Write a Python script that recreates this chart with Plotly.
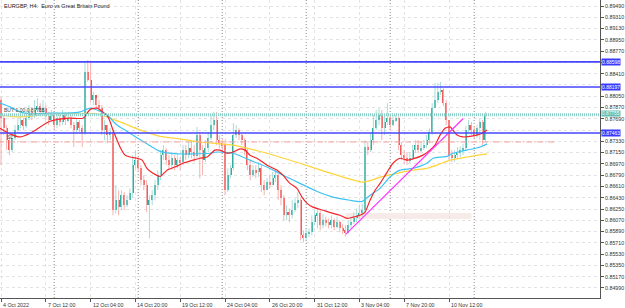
import plotly.graph_objects as go

# ---------------- data ----------------
first_open = 0.8799
close = [0.8770,0.8754,0.8735,0.8719,0.8738,0.8751,0.8759,0.8767,0.8757,0.8770,
         0.8780,0.8773,0.8783,0.8789,0.8780,0.8786,0.8773,0.8767,0.8775,0.8759,
         0.8770,0.8764,0.8775,0.8767,0.8770,0.8759,0.8751,0.8764,0.8754,0.8746,
         0.8844,0.8831,0.8799,0.8807,0.8791,0.8786,0.8751,0.8759,0.8743,0.8748,
         0.8623,0.8639,0.8628,0.8647,0.8631,0.8639,0.8650,0.8695,0.8703,0.8690,
         0.8671,0.8663,0.8631,0.8639,0.8647,0.8663,0.8679,0.8711,0.8719,0.8703,
         0.8695,0.8706,0.8695,0.8703,0.8700,0.8719,0.8711,0.8722,0.8716,0.8709,
         0.8743,0.8719,0.8703,0.8722,0.8738,0.8759,0.8767,0.8735,0.8730,0.8727,
         0.8655,0.8679,0.8690,0.8743,0.8751,0.8743,0.8735,0.8719,0.8695,0.8679,
         0.8687,0.8684,0.8690,0.8663,0.8655,0.8668,0.8663,0.8674,0.8679,0.8655,
         0.8642,0.8615,0.8620,0.8615,0.8623,0.8634,0.8639,0.8583,0.8578,0.8586,
         0.8588,0.8604,0.8615,0.8618,0.8599,0.8607,0.8604,0.8599,0.8607,0.8597,
         0.8604,0.8594,0.8591,0.8586,0.8599,0.8604,0.8610,0.8615,0.8618,0.8623,
         0.8724,0.8719,0.8735,0.8754,0.8767,0.8775,0.8754,0.8764,0.8770,0.8759,
         0.8767,0.8770,0.8727,0.8711,0.8706,0.8703,0.8706,0.8719,0.8727,0.8719,
         0.8722,0.8727,0.8735,0.8748,0.8786,0.8799,0.8812,0.8815,0.8794,0.8767,
         0.8711,0.8706,0.8711,0.8716,0.8719,0.8722,0.8751,0.8759,0.8751,0.8743,
         0.8754,0.8764,0.8735,0.8775]
high = [0.8804,0.8775,0.8759,0.8738,0.8743,0.8759,0.8770,0.8780,0.8770,0.8783,
        0.8791,0.8786,0.8799,0.8802,0.8794,0.8799,0.8791,0.8780,0.8783,0.8780,
        0.8780,0.8775,0.8783,0.8780,0.8780,0.8775,0.8764,0.8770,0.8767,0.8759,
        0.8860,0.8863,0.8860,0.8812,0.8802,0.8799,0.8791,0.8767,0.8759,0.8754,
        0.8751,0.8663,0.8655,0.8655,0.8652,0.8647,0.8658,0.8711,0.8719,0.8708,
        0.8695,0.8679,0.8671,0.8647,0.8655,0.8671,0.8687,0.8719,0.8727,0.8722,
        0.8711,0.8716,0.8711,0.8711,0.8708,0.8727,0.8727,0.8732,0.8735,0.8727,
        0.8756,0.8748,0.8727,0.8735,0.8748,0.8775,0.8780,0.8780,0.8743,0.8738,
        0.8735,0.8690,0.8695,0.8762,0.8759,0.8754,0.8746,0.8738,0.8722,0.8703,
        0.8695,0.8695,0.8700,0.8695,0.8671,0.8674,0.8679,0.8684,0.8687,0.8682,
        0.8663,0.8647,0.8631,0.8626,0.8639,0.8642,0.8652,0.8642,0.8591,0.8594,
        0.8594,0.8615,0.8623,0.8626,0.8623,0.8617,0.8613,0.8610,0.8615,0.8610,
        0.8613,0.8607,0.8601,0.8599,0.8607,0.8613,0.8620,0.8626,0.8631,0.8634,
        0.8735,0.8732,0.8746,0.8775,0.8783,0.8786,0.8783,0.8775,0.8794,0.8775,
        0.8775,0.8775,0.8773,0.8732,0.8719,0.8716,0.8716,0.8727,0.8735,0.8735,
        0.8732,0.8735,0.8743,0.8754,0.8794,0.8826,0.8826,0.8828,0.8818,0.8799,
        0.8767,0.8719,0.8719,0.8724,0.8725,0.8729,0.8757,0.8767,0.8764,0.8757,
        0.8759,0.8770,0.8767,0.8780]
low = [0.8695,0.8743,0.8719,0.8711,0.8716,0.8735,0.8748,0.8754,0.8751,0.8754,
       0.8767,0.8767,0.8770,0.8780,0.8773,0.8775,0.8767,0.8759,0.8764,0.8751,
       0.8754,0.8757,0.8759,0.8759,0.8764,0.8754,0.8724,0.8748,0.8748,0.8724,
       0.8743,0.8828,0.8796,0.8791,0.8786,0.8780,0.8743,0.8735,0.8730,0.8735,
       0.8615,0.8618,0.8615,0.8623,0.8623,0.8628,0.8639,0.8644,0.8690,0.8684,
       0.8663,0.8655,0.8620,0.8578,0.8631,0.8639,0.8655,0.8671,0.8703,0.8695,
       0.8687,0.8687,0.8687,0.8690,0.8687,0.8695,0.8703,0.8706,0.8706,0.8700,
       0.8706,0.8674,0.8679,0.8700,0.8716,0.8735,0.8751,0.8727,0.8722,0.8719,
       0.8647,0.8652,0.8674,0.8687,0.8738,0.8735,0.8727,0.8711,0.8687,0.8671,
       0.8676,0.8674,0.8676,0.8652,0.8647,0.8655,0.8658,0.8663,0.8668,0.8639,
       0.8631,0.8607,0.8607,0.8604,0.8610,0.8620,0.8626,0.8575,0.8572,0.8575,
       0.8580,0.8583,0.8599,0.8594,0.8591,0.8594,0.8597,0.8594,0.8594,0.8591,
       0.8594,0.8588,0.8585,0.8581,0.8585,0.8594,0.8601,0.8604,0.8610,0.8613,
       0.8618,0.8711,0.8716,0.8727,0.8751,0.8759,0.8735,0.8743,0.8759,0.8751,
       0.8757,0.8764,0.8719,0.8703,0.8698,0.8695,0.8698,0.8703,0.8714,0.8714,
       0.8716,0.8719,0.8722,0.8730,0.8743,0.8786,0.8794,0.8807,0.8789,0.8759,
       0.8703,0.8700,0.8700,0.8706,0.8708,0.8711,0.8719,0.8748,0.8743,0.8738,
       0.8738,0.8735,0.8727,0.8732]

# moving averages read at sample bars
ma_fast_bar = [-0.4,3.2,6.8,10.4,17.5,24.6,29.3,31.8,34.3,38.2,40,42.5,44.3,46.1,48.6,50.4,52.1,54.3,
               56.8,59.3,62.1,65,68.6,71.1,73.6,76.4,78.2,80.7,82.9,85.4,87.1,88.9,91.8,95,98.6,100.7,
               103.2,105.7,107.5,109.3,111.4,115,118.6,121.1,123.6,125.7,128.2,130,131.8,133.6,135.4,
               137.9,140,142.5,145,147.1,150.7,153.2,155,156.8,158.6,160.4,162.9,165,167.5,170,171.8,173.6]
ma_fast = [0.8754,0.8745,0.8740,0.8746,0.8765,0.8770,0.8770,0.8784,0.8786,0.8772,0.8751,0.8724,0.8711,
           0.8708,0.8706,0.8703,0.8690,0.8682,0.8677,0.8687,0.8692,0.8698,0.8703,0.8706,0.8708,0.8719,
           0.8719,0.8714,0.8716,0.8721,0.8719,0.8711,0.8705,0.8695,0.8687,0.8679,0.8666,0.8658,0.8644,
           0.8634,0.8628,0.8623,0.8618,0.8615,0.8610,0.8612,0.8615,0.8620,0.8639,0.8655,0.8666,0.8684,
           0.8698,0.8706,0.8703,0.8705,0.8711,0.8719,0.8727,0.8743,0.8754,0.8756,0.8743,0.8740,0.8741,
           0.8743,0.8746,0.8751]
ma_mid_bar = [-0.4,3.2,6.8,10.4,17.5,23.6,28.2,31.8,34.3,37.9,41.4,44.3,47.1,52.1,56.8,62.9,68.6,74.6,
              77.1,82.9,88.9,95,100.7,106.8,112.9,118.6,124.6,128.9,131.8,135.4,138.9,142.5,147.1,
              152.1,154.3,159.3,161.4,166.4,171.1,173.6]
ma_mid = [0.8794,0.8788,0.8780,0.8777,0.8778,0.8778,0.8780,0.8786,0.8783,0.8775,0.8759,0.8751,0.8743,
          0.8729,0.8717,0.8713,0.8713,0.8714,0.8716,0.8714,0.8703,0.8692,0.8679,0.8666,0.8653,0.8644,
          0.8639,0.8637,0.8647,0.8658,0.8676,0.8687,0.8690,0.8698,0.8706,0.8709,0.8714,0.8719,0.8724,
          0.8729]
ma_slow_bar = [-0.4,6.8,13.9,23.6,34.3,38.9,42.5,48.6,56.8,63.9,71.1,82.9,95,106.8,116.4,123.6,128.9,
               132.5,135.4,141.4,147.1,152.1,155.7,160.4,166.4,173.6]
ma_slow = [0.8775,0.8772,0.8775,0.8777,0.8777,0.8770,0.8764,0.8753,0.8741,0.8737,0.8732,0.8727,0.8714,
           0.8698,0.8684,0.8674,0.8668,0.8671,0.8676,0.8682,0.8687,0.8690,0.8695,0.8703,0.8708,0.8713]

blue_levels = [0.88598, 0.88197, 0.87463]
entry_level = 0.87755
sl_level = 0.87320
zone_bars = [123, 168]
zone_prices = [0.86091, 0.86187]
trend_bars = [123.2, 165]
trend_prices = [0.8585, 0.8769]
week_starts = [19, 49, 79, 109, 139, 169]

x_tick_bars = [0, 16, 32, 48, 64, 80, 96, 112, 128, 144, 160]
x_tick_text = ["4 Oct 2022", "7 Oct 12:00", "12 Oct 04:00", "14 Oct 20:00", "19 Oct 12:00",
               "24 Oct 04:00", "26 Oct 20:00", "31 Oct 12:00", "3 Nov 04:00", "7 Nov 20:00",
               "10 Nov 12:00"]
y_tick_vals = [round(0.84990 + 0.0018 * k, 5) for k in range(26)]
# price-scale labels hidden behind the highlighted level boxes in the picture
y_tick_hidden = [0.88590, 0.88230, 0.87510]

title = "EURGBP, H4:  Euro vs Great Britain Pound"

# ---------------- figure ----------------
BULL, BEAR = "#26a69a", "#ef5350"
BULL_W, BEAR_W = "#a8dcd6", "#f6b1b0"
FONT = "Liberation Sans, Arial, sans-serif"

n = len(close)
opens = [first_open] + close[:-1]
idx = list(range(n))

fig = go.Figure()
for up, col in ((True, BULL_W), (False, BEAR_W)):
    xs, ys = [], []
    for i in idx:
        if (close[i] >= opens[i]) == up:
            xs += [i, i, None]
            ys += [low[i], high[i], None]
    fig.add_trace(go.Scatter(x=xs, y=ys, mode="lines", line=dict(color=col, width=1),
                             hoverinfo="skip", showlegend=False))

base = [min(o, c) for o, c in zip(opens, close)]
hgt = [max(abs(c - o), 0.00004) for o, c in zip(opens, close)]
cols = [BULL if c >= o else BEAR for o, c in zip(opens, close)]
fig.add_trace(go.Bar(x=idx, y=hgt, base=base, marker=dict(color=cols, line=dict(width=0)),
                     width=0.72, showlegend=False))

for xb, yv, col in ((ma_slow_bar, ma_slow, "#ffd43b"), (ma_mid_bar, ma_mid, "#3fc3f3"),
                    (ma_fast_bar, ma_fast, "#f2262b")):
    fig.add_trace(go.Scatter(x=xb, y=yv, mode="lines", line=dict(color=col, width=1.2, shape="spline",
                             smoothing=0.6), hoverinfo="skip", showlegend=False))

fig.add_trace(go.Scatter(x=trend_bars, y=trend_prices, mode="lines",
                         line=dict(color="#ff33ff", width=1.2), showlegend=False))

shapes = []
shapes.append(dict(type="rect", xref="x", yref="y", x0=zone_bars[0], x1=zone_bars[1],
                   y0=zone_prices[0], y1=zone_prices[1], fillcolor="#f7ebe9",
                   line=dict(width=0), layer="below"))
for wb in week_starts:
    shapes.append(dict(type="line", xref="x", yref="paper", x0=wb, x1=wb, y0=0, y1=1,
                       line=dict(color="#8a8a8a", width=1, dash="1px,2px"), layer="below"))
for lv in blue_levels:
    shapes.append(dict(type="line", xref="paper", yref="y", x0=0, x1=1, y0=lv, y1=lv,
                       line=dict(color="#4646ff", width=1.6)))
shapes.append(dict(type="line", xref="paper", yref="y", x0=0, x1=1, y0=entry_level, y1=entry_level,
                   line=dict(color="#8fd1c9", width=3, dash="1px,1px")))
shapes.append(dict(type="line", xref="x", yref="y", x0=-1, x1=198, y0=sl_level, y1=sl_level,
                   line=dict(color="#f3a09c", width=1, dash="6px,2px,1px,2px")))

annotations = [dict(text=title, xref="paper", yref="paper", x=0.004, y=0.995, xanchor="left",
                    yanchor="top", showarrow=False, font=dict(size=5.5, color="#222", family=FONT))]
for tb, tt in zip(x_tick_bars, x_tick_text):
    annotations.append(dict(text=tt, xref="x", yref="paper", x=tb, y=0, xanchor="left",
                            yanchor="top", yshift=-1.5, xshift=0, showarrow=False,
                            font=dict(size=5.3, color="#333", family=FONT)))
for lv in blue_levels:
    annotations.append(dict(text=f"{lv:.5f}", xref="paper", yref="y", x=1, y=lv, xanchor="left",
                            xshift=1, showarrow=False, bgcolor="#3a3aff", borderpad=0,
                            font=dict(size=5, color="white", family=FONT)))
annotations.append(dict(text=f"{entry_level:.5f}", xref="paper", yref="y", x=1, y=entry_level,
                        xanchor="left", yanchor="bottom", xshift=1, yshift=-2, showarrow=False,
                        bgcolor="#5fbfb2", borderpad=0, font=dict(size=4.8, color="white", family=FONT)))
annotations.append(dict(text=f"BUY 1.00 {entry_level:.5f}", xref="paper", yref="y", x=0.004,
                        y=entry_level, xanchor="left", yanchor="bottom", showarrow=False,
                        font=dict(size=5, color="#444", family=FONT)))
annotations.append(dict(text="SL", xref="paper", yref="y", x=0.008, y=sl_level, xanchor="left",
                        yanchor="bottom", showarrow=False, font=dict(size=5, color="#444", family=FONT)))

y_tick_text = ["" if any(abs(v - h) < 1e-6 for h in y_tick_hidden) else f"{v:.5f}"
               for v in y_tick_vals]

fig.update_layout(
    width=625, height=308, margin=dict(l=0, r=25, t=0, b=10),
    paper_bgcolor="white", plot_bgcolor="white", showlegend=False, bargap=0,
    shapes=shapes, annotations=annotations,
    xaxis=dict(range=[-0.36, 213.93], tickvals=x_tick_bars, showticklabels=False,
               ticks="outside", ticklen=3, tickcolor="#555", showline=True, linecolor="#555",
               linewidth=1, showgrid=True, gridcolor="#e3e3e3", griddash="dot", zeroline=False),
    yaxis=dict(range=[0.84830, 0.89586], side="right", tickvals=y_tick_vals,
               ticktext=y_tick_text, ticks="outside", ticklen=3,
               tickcolor="#555", showline=True, linecolor="#555", linewidth=1,
               tickfont=dict(size=5.3, color="#333", family=FONT),
               showgrid=True, gridcolor="#e3e3e3", griddash="dot", zeroline=False),
)
fig.write_html("out.html")
